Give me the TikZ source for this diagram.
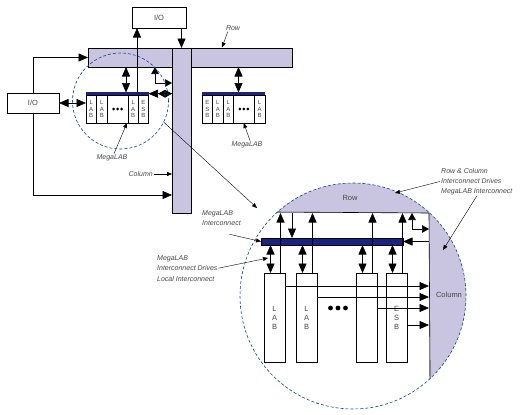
\documentclass[tikz,border=0pt]{standalone}
\usepackage{fontspec}
\setmainfont{Liberation Sans}
\usetikzlibrary{arrows.meta,positioning,calc}
\definecolor{lavfill}{RGB}{201,197,225}
\definecolor{navybar}{RGB}{26,35,126}
\definecolor{zoomline}{RGB}{30,60,150}
\definecolor{lbltext}{RGB}{70,70,70}

\tikzset{
  box/.style={draw, fill=white, inner sep=0pt, outer sep=0pt, anchor=north west, line width=0.6pt},
  iobox/.style={box, minimum width=54pt, minimum height=21pt, font=\fontsize{7.5}{8}\selectfont, text=lbltext},
  busbar/.style={draw, fill=lavfill, inner sep=0pt, outer sep=0pt, anchor=north west, line width=0.6pt},
  cell/.style={box, minimum height=28pt, align=center, font=\fontsize{6}{6.5}\selectfont, text=lbltext},
  bigcell/.style={box, minimum width=21pt, minimum height=89pt, align=center, font=\fontsize{7.5}{9}\selectfont, text=lbltext},
  lbl/.style={font=\fontsize{7}{10}\selectfont\itshape, text=lbltext, inner sep=1pt},
  arr/.style={line width=0.6pt, -{Triangle[length=9.5pt,width=8pt]}},
  biarr/.style={line width=0.6pt, {Triangle[length=9.5pt,width=8pt]}-{Triangle[length=9.5pt,width=8pt]}},
  smallbiarr/.style={line width=0.6pt, {Triangle[length=7pt,width=7.5pt]}-{Triangle[length=7pt,width=7.5pt]}},
  lblarr/.style={line width=0.4pt, -{Triangle[length=5pt,width=4pt]}},
  megabar/.style={line width=2.5pt, navybar},
}

\begin{document}
\begin{tikzpicture}[x=1pt,y=-1pt]
	\useasboundingbox (0,0) rectangle (520,415);
	% overview: row, column and I/O
	\node[busbar, minimum width=204pt, minimum height=19pt] (row) at (88,48) {};
	\node[busbar, minimum width=19pt, minimum height=165pt] (col) at (172,48) {};
	\node[iobox] (ioT) at (132,7) {I/O};
	\node[iobox, minimum width=52pt, minimum height=20pt] (ioL) at (7,93) {I/O};
	% left MegaLAB
	\node[cell, minimum width=10.5pt] (labA1) at (86,95) {L\\A\\B};
	\node[cell, minimum width=10.5pt] (labA2) at (labA1.north east) {L\\A\\B};
	\node[cell, minimum width=21pt] (dotsA) at (labA2.north east) {};
	\node[cell, minimum width=10.5pt] (labA3) at (dotsA.north east) {L\\A\\B};
	\node[cell, minimum width=10pt] (esbA) at (labA3.north east) {E\\S\\B};
	\draw[megabar] ([yshift=1.3pt]labA1.north west) -- ([yshift=1.3pt]esbA.north east);
	\foreach \i in {-4,0,4} \fill ([xshift=\i pt]dotsA.center) circle (1.5pt);
	% right MegaLAB
	\node[cell, minimum width=10.5pt] (esbB) at (202,95) {E\\S\\B};
	\node[cell, minimum width=10.5pt] (labB1) at (esbB.north east) {L\\A\\B};
	\node[cell, minimum width=10.5pt] (labB2) at (labB1.north east) {L\\A\\B};
	\node[cell, minimum width=20.5pt] (dotsB) at (labB2.north east) {};
	\node[cell, minimum width=11pt] (labB3) at (dotsB.north east) {L\\A\\B};
	\draw[megabar] ([yshift=1.3pt]esbB.north west) -- ([yshift=1.3pt]labB3.north east);
	\foreach \i in {-4,0,4} \fill ([xshift=\i pt]dotsB.center) circle (1.5pt);
	% overview connections
	\coordinate (upA) at ([xshift=-1.5pt,yshift=2.5pt]labA3.north east);
	\coordinate (rbA) at ([xshift=-2pt,yshift=2.5pt]dotsA.north east);
	\coordinate (rbB) at ([xshift=5pt,yshift=2.5pt]dotsB.north west);
	\coordinate (elA) at (155,83);
	\coordinate (beA) at ([yshift=1.3pt]esbA.north east);
	\coordinate (beC) at (beA -| col.west);
	\coordinate (lowA) at (33,195);
	\draw[arr] (ioT.south -| col.north) -- (col.north);
	\draw[arr] (upA) -- (upA |- ioT.south);
	\draw[biarr] (rbA |- row.south) -- (rbA);
	\draw[biarr] (rbB |- row.south) -- (rbB);
	\draw[smallbiarr] (elA |- row.south) |- (elA -| col.west);
	\draw[arr] (beC) -- (beA);
	\draw[smallbiarr] ([xshift=-14pt]beC) -- (beC);
	\draw[biarr] (ioL.east) -- (ioL.east -| labA1.west);
	\draw[arr] (ioL.north) |- (row.west);
	\draw[arr] (ioL.south) |- (col.west |- lowA);
	% overview labels
	\node[lbl, anchor=east] (colLbl) at (154,174) {Column};
	\draw[lblarr] (colLbl.east) -- (colLbl.east -| col.west);
	\node[lbl] (rowLbl) at (233,28) {Row};
	\coordinate (rowPt) at (222,47.5);
	\draw[lblarr] ([xshift=3pt]rowLbl.south west) -- (rowPt);
	\node[lbl] (mlA) at (112,158) {MegaLAB};
	\draw[lblarr] ([xshift=2pt]mlA.north) -- ([xshift=-1pt]labA3.south west);
	\node[lbl] (mlB) at (247,145) {MegaLAB};
	\draw[lblarr] ([xshift=3pt]mlB.north) -- (dotsB.south);
	% zoom rings
	\node[circle, draw=zoomline, densely dashed, line width=0.6pt, inner sep=0pt, outer sep=0pt, minimum size=96pt] (zoomA) at (120.5,101) {};
	\coordinate (zoomTip) at (257,208);
	\draw[lblarr] (zoomA.-26) -- (zoomTip);
	\node[circle, inner sep=0pt, outer sep=0pt, minimum size=226pt] (zoomB) at (353,296) {};
	\coordinate (colTop) at (429,213);
	\begin{scope}
		\clip (zoomB.center) circle (113pt);
		\fill[lavfill] (230,180) rectangle (470,213);
		\fill[lavfill] (429,213) rectangle (470,410);
	\end{scope}
	\draw[line width=0.6pt] (zoomB.132.7) -- (colTop) -- (zoomB.-47.7);
	\draw[zoomline, densely dashed, line width=0.6pt] (zoomB.center) circle (113pt);
	\node[font=\fontsize{7.5}{9}\selectfont, text=lbltext] (rowTxt) at (350,198) {Row};
	\node[font=\fontsize{7.5}{9}\selectfont, text=lbltext] (colTxt) at (449,295) {Column};
	% detail: MegaLAB interconnect and cells
	\node[box, fill=navybar, minimum width=142pt, minimum height=7pt] (bigbar) at (261,238) {};
	\node[bigcell] (labC1) at (264,273) {L\\A\\B};
	\node[bigcell] (labC2) at (296,273) {L\\A\\B};
	\node[bigcell] (boxC3) at (356,273) {};
	\node[bigcell] (esbC) at (386,273) {E\\S\\B};
	\foreach \i in {-7.5,0,7.5} \fill ({338+\i},308) circle (2.4pt);
	\foreach \c in {labC1,labC2,boxC3,esbC} {
		\coordinate (up) at ([xshift=-4.5pt]\c.north east);
		\coordinate (bi) at ([xshift=6.5pt]\c.north west);
		\draw[arr] (up) -- (up |- colTop);
		\draw[biarr] (bi |- bigbar.south) -- (bi);
	}
	\foreach \c/\d in {labC1/13,labC2/24,boxC3/35,esbC/52} {
		\coordinate (h) at ([yshift=-\d pt]\c.north east);
		\draw[arr] (h) -- (h -| colTop);
	}
	\coordinate (dn) at ([xshift=7pt]labC1.north east);
	\draw[arr] (dn |- colTop) -- (dn |- bigbar.north);
	\coordinate (elC) at (412,229);
	\draw[smallbiarr] (elC |- colTop) |- (elC -| colTop);
	\draw[arr] (bigbar.east -| colTop) -- (bigbar.east);
	% detail labels
	\node[lbl, align=left, anchor=north west] (mliLbl) at (201,209) {MegaLAB\\Interconnect};
	\draw[lblarr] ([xshift=8pt,yshift=-8pt]mliLbl.south) -- (bigbar.west);
	\node[lbl, font=\fontsize{7}{10.5}\selectfont\itshape, align=left, anchor=north west] (mlidLbl) at (156,254) {MegaLAB\\Interconnect Drives\\Local Interconnect};
	\draw[lblarr] (mlidLbl.east) -- ([shift={(4,-15)}]labC1.north west);
	\node[lbl, align=left, anchor=north west] (rcLbl) at (440,167) {Row \& Column\\Interconnect Drives\\MegaLAB Interconnect};
	\coordinate (rcRow) at (395,193);
	\coordinate (rcCol) at (443,250);
	\draw[lblarr] (rcLbl.west) -- (rcRow);
	\draw[lblarr] (rcLbl.south) -- (rcCol);
\end{tikzpicture}
\end{document}
